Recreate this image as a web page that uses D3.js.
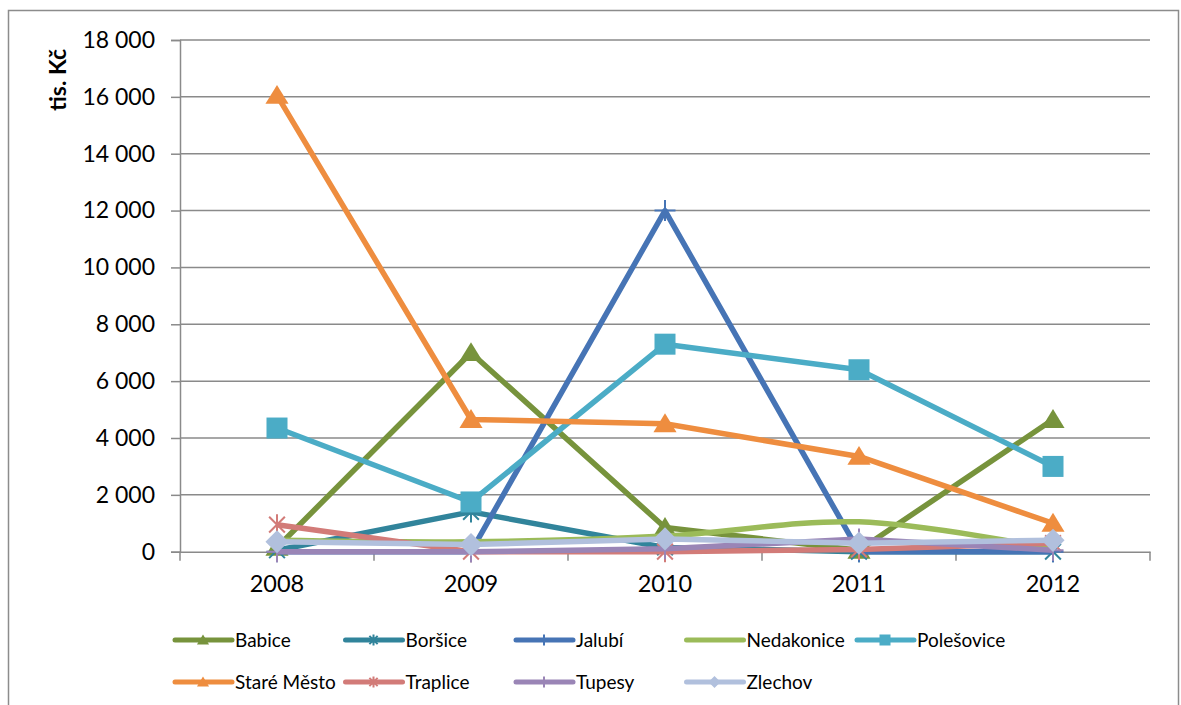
<!DOCTYPE html>
<html>
<head>
<meta charset="utf-8">
<script src="https://cdn.jsdelivr.net/npm/d3@7"></script>
<style>
body{margin:0;background:#fff;}
</style>
</head>
<body>
<script>

var years = ["2008","2009","2010","2011","2012"];
var yTicks = [0,2000,4000,6000,8000,10000,12000,14000,16000,18000];

var babice = [150, 7000, 850, 50, 4650];
var borsice = [50, 1400, 150, 0, 0];
var jalubi = [0, 0, 12000, 0, 0];
var nedakonice = [400, 350, 550, 1050, 100];
var polesovice = [4350, 1750, 7300, 6400, 3000];
var stareMesto = [16050, 4650, 4500, 3350, 1000];
var traplice = [950, 0, 0, 80, 300];
var tupesy = [0, 0, 100, 450, 50];
var zlechov = [350, 250, 450, 300, 400];

var seriesNames = ["Babice","Boršice","Jalubí","Nedakonice","Polešovice","Staré Město","Traplice","Tupesy","Zlechov"];
var seriesValues = [babice, borsice, jalubi, nedakonice, polesovice, stareMesto, traplice, tupesy, zlechov];
var seriesColors = ["#77933c","#31849b","#4674b5","#9bbb59","#4bacc6","#ee8d3f","#d27b78","#9a85b6","#b1c0dd"];
var seriesMarkers = ["triangle","star","plus","none","square","triangle","star","plus","diamond"];

var font = "Lato, 'Open Sans', sans-serif";

var svg = d3.select('body').append('svg')
    .attr('width',1181)
    .attr('height',705);

// outer frame of the chart
svg.append('rect')
    .attr('x',8.5)
    .attr('y',10.5)
    .attr('width',1170)
    .attr('height',720)
    .attr('fill','white')
    .attr('stroke','#8c8c8c')
    .attr('stroke-width',1.5);

var x = d3.scaleBand().domain(years).range([180,1150]);
var y = d3.scaleLinear().domain([0,18000]).range([551.7,40]);
var cx = function(i){ return x(years[i]) + x.bandwidth()/2; };

// gridlines
svg.append('g').selectAll('line')
    .data(yTicks.slice(1))
    .enter().append('line')
    .attr('x1',180)
    .attr('x2',1150)
    .attr('y1',function(d){return y(d);})
    .attr('y2',function(d){return y(d);})
    .attr('stroke','#8a8a8a')
    .attr('stroke-width',1.5);

// y axis
var yAxis = svg.append('g')
    .attr('transform','translate(180,0)')
    .call(d3.axisLeft(y).tickValues(yTicks).tickSize(9).tickPadding(16)
        .tickFormat(function(d){ return d3.format(",")(d).replace(/,/g," "); }));
yAxis.select('.domain').attr('stroke','#8a8a8a').attr('stroke-width',1.5);
yAxis.selectAll('.tick line').attr('stroke','#8a8a8a').attr('stroke-width',1.5);
yAxis.selectAll('text')
    .attr('font-family',font)
    .attr('font-size',23)
    .attr('fill','black');

// x axis
var xAxis = svg.append('g')
    .attr('transform','translate(0,551.7)')
    .call(d3.axisBottom(x).tickSize(0).tickPadding(24));
xAxis.select('.domain').attr('stroke','#8a8a8a').attr('stroke-width',1.5);
xAxis.selectAll('text')
    .attr('font-family',font)
    .attr('font-size',23.5)
    .attr('fill','black');

// tick marks between categories
var bounds = years.map(function(d){return x(d);}).concat([x(years[years.length-1]) + x.bandwidth()]);
xAxis.selectAll('.bound')
    .data(bounds)
    .enter().append('line')
    .attr('class','bound')
    .attr('x1',function(d){return d;})
    .attr('x2',function(d){return d;})
    .attr('y1',0)
    .attr('y2',9)
    .attr('stroke','#8a8a8a')
    .attr('stroke-width',1.5);

// y axis title
svg.append('text')
    .attr('transform','translate(66,80) rotate(-90)')
    .attr('text-anchor','middle')
    .attr('font-family',font)
    .attr('font-weight','bold')
    .attr('font-size',23)
    .text('tis. Kč');

function drawMarker(g, type, px, py, s, color){
    if(type=="triangle"){
        g.append('path')
            .attr('d','M'+px+','+(py-s)+'L'+(px+s*1.1)+','+(py+s*0.8)+'L'+(px-s*1.1)+','+(py+s*0.8)+'Z')
            .attr('fill',color);
    }
    else if(type=="square"){
        g.append('rect')
            .attr('x',px-s).attr('y',py-s)
            .attr('width',2*s).attr('height',2*s)
            .attr('fill',color);
    }
    else if(type=="diamond"){
        g.append('path')
            .attr('d','M'+px+','+(py-s*1.1)+'L'+(px+s*1.1)+','+py+'L'+px+','+(py+s*1.1)+'L'+(px-s*1.1)+','+py+'Z')
            .attr('fill',color);
    }
    else if(type=="plus"){
        g.append('path')
            .attr('d','M'+(px-s)+','+py+'H'+(px+s)+'M'+px+','+(py-s)+'V'+(py+s))
            .attr('stroke',color).attr('stroke-width',2);
    }
    else if(type=="star"){
        var k = s*0.75;
        g.append('path')
            .attr('d','M'+(px-k)+','+(py-k)+'L'+(px+k)+','+(py+k)+'M'+(px+k)+','+(py-k)+'L'+(px-k)+','+(py+k)+'M'+px+','+(py-s)+'V'+(py+s))
            .attr('stroke',color).attr('stroke-width',2);
    }
}

// series lines
var plot = svg.append('g');
seriesValues.forEach(function(vals, si){
    var line = d3.line()
        .x(function(d,i){return cx(i);})
        .y(function(d){return y(d);});
    if(seriesNames[si]=="Nedakonice"){
        line.curve(d3.curveCatmullRom.alpha(0.5));  // smoothed in the original
    }
    var g = plot.append('g');
    g.append('path')
        .attr('d',line(vals))
        .attr('fill','none')
        .attr('stroke',seriesColors[si])
        .attr('stroke-width',5.5)
        .attr('stroke-linejoin','round');
    vals.forEach(function(v,i){
        drawMarker(g, seriesMarkers[si], cx(i), y(v), 10.5, seriesColors[si]);
    });
});

// legend
var legend = svg.append('g');
seriesNames.forEach(function(name, si){
    var col = si % 5;
    var row = Math.floor(si / 5);
    var lx = 175 + col*170.5;
    var ly = 640 + row*42;
    var g = legend.append('g');
    g.append('line')
        .attr('x1',lx).attr('x2',lx+57)
        .attr('y1',ly).attr('y2',ly)
        .attr('stroke',seriesColors[si])
        .attr('stroke-width',5)
        .attr('stroke-linecap','round');
    drawMarker(g, seriesMarkers[si], lx+28, ly, 5.5, seriesColors[si]);
    g.append('text')
        .attr('x',lx+60)
        .attr('y',ly)
        .attr('dy','0.35em')
        .attr('font-family',font)
        .attr('font-size',19)
        .text(name);
});

</script>
</body>
</html>
